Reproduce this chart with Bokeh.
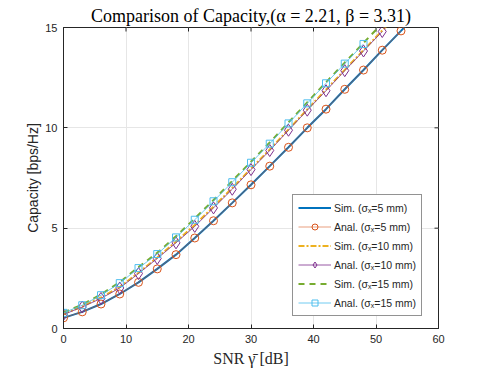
import math
from bokeh.plotting import figure
from bokeh.models import Range1d, Legend, LegendItem, FixedTicker
from bokeh.embed import file_html
from bokeh.resources import INLINE

# ---- data ----
snr_sim = [0, 3, 6, 9, 12, 15, 18, 21, 24, 27, 30, 33, 36, 39, 42, 45, 48, 51, 54, 57]
sim_5 = [0.53, 0.83, 1.22, 1.72, 2.30, 2.97, 3.68, 4.51, 5.37, 6.26, 7.16, 8.09, 9.03, 10.00, 10.93, 11.92, 12.88, 13.87, 14.83, 15.82]
sim_10 = [0.72, 1.10, 1.55, 2.07, 2.78, 3.54, 4.33, 5.16, 6.07, 7.00, 7.97, 8.92, 9.92, 10.92, 11.90, 12.89, 13.87, 14.85, 15.83, 16.8]
sim_15 = [0.80, 1.19, 1.70, 2.31, 3.06, 3.77, 4.60, 5.48, 6.40, 7.35, 8.31, 9.27, 10.27, 11.27, 12.27, 13.25, 14.23, 15.21, 16.2, 17.2]

snr_a5 = [0, 3, 6, 9, 12, 15, 18, 21, 24, 27, 30, 33, 36, 39, 42, 45, 48, 51, 54]
anal_5 = [0.53, 0.83, 1.22, 1.72, 2.30, 2.97, 3.68, 4.51, 5.37, 6.26, 7.16, 8.09, 9.03, 10.00, 10.93, 11.92, 12.88, 13.87, 14.83]
snr_a10 = [0, 3, 6, 9, 12, 15, 18, 21, 24, 27, 30, 33, 36, 39, 42, 45, 48, 51]
anal_10 = [0.70, 1.07, 1.50, 2.02, 2.74, 3.49, 4.27, 5.09, 6.01, 6.94, 7.92, 8.87, 9.88, 10.88, 11.85, 12.85, 13.83, 14.80]
snr_a15 = [0, 3, 6, 9, 12, 15, 18, 21, 24, 27, 30, 33, 36, 39, 42, 45, 48]
anal_15 = [0.78, 1.16, 1.66, 2.26, 3.01, 3.71, 4.54, 5.42, 6.34, 7.29, 8.26, 9.21, 10.22, 11.22, 12.22, 13.20, 14.18]

x_ticks = [0, 10, 20, 30, 40, 50, 60]
y_ticks = [0, 5, 10, 15]
x_min, x_max = 0, 60
y_min, y_max = 0, 15

title_text = "Comparison of Capacity,(\u03b1 = 2.21, \u03b2 = 3.31)"
x_label = "SNR \u03b3\u0304 [dB]"
y_label = "Capacity [bps/Hz]"
labels = ["Sim. (\u03c3\u2093=5 mm)", "Anal. (\u03c3\u2093=5 mm)",
          "Sim. (\u03c3\u2093=10 mm)", "Anal. (\u03c3\u2093=10 mm)",
          "Sim. (\u03c3\u2093=15 mm)", "Anal. (\u03c3\u2093=15 mm)"]

BLUE = "#0072BD"; ORANGE = "#D95319"; YELLOW = "#EDB120"
PURPLE = "#7E2F8E"; GREEN = "#77AC30"; CYAN = "#4DBEEE"
AX = "#262626"

p = figure(width=485, height=369, output_backend="svg", toolbar_location=None,
           x_range=Range1d(x_min, x_max), y_range=Range1d(y_min, y_max),
           min_border_left=63, min_border_right=47, min_border_top=27, min_border_bottom=41)

p.title.text = title_text
p.title.text_font = "Liberation Serif"
p.title.text_font_size = "18px"
p.title.text_font_style = "normal"
p.title.align = "center"
p.title.text_color = "black"
p.title.offset = 0
p.title.standoff = 4

p.outline_line_color = AX
p.outline_line_width = 1
p.background_fill_color = "white"
p.border_fill_color = "white"

for ax in (p.xaxis[0], p.yaxis[0]):
    ax.major_tick_in = 4
    ax.major_tick_out = 0
    ax.minor_tick_in = 0
    ax.minor_tick_out = 0
    ax.axis_line_color = AX
    ax.major_tick_line_color = AX
    ax.major_label_text_color = AX
    ax.major_label_text_font = "Liberation Sans"
    ax.major_label_text_font_size = "11px"

p.xaxis[0].ticker = FixedTicker(ticks=x_ticks)
p.yaxis[0].ticker = FixedTicker(ticks=y_ticks)
p.xaxis[0].axis_label = x_label
p.xaxis[0].axis_label_text_font = "Liberation Serif"
p.xaxis[0].axis_label_text_font_size = "16px"
p.xaxis[0].axis_label_text_font_style = "normal"
p.xaxis[0].axis_label_text_color = AX
p.xaxis[0].axis_label_standoff = 4
p.xaxis[0].major_label_standoff = 6

p.yaxis[0].axis_label = y_label
p.yaxis[0].axis_label_text_font = "Liberation Sans"
p.yaxis[0].axis_label_text_font_size = "14px"
p.yaxis[0].axis_label_text_font_style = "normal"
p.yaxis[0].axis_label_text_color = AX
p.yaxis[0].axis_label_standoff = 1
p.yaxis[0].major_label_standoff = 6

p.xgrid.ticker = FixedTicker(ticks=x_ticks)
p.ygrid.ticker = FixedTicker(ticks=y_ticks)
p.grid.grid_line_color = "#e6e6e6"
p.grid.grid_line_width = 1

# inward tick marks on the top and right edges of the box (half of each dash is clipped by the frame)
p.scatter(x_ticks, [y_max] * len(x_ticks), marker="dash", size=8, angle=math.pi / 2,
          line_color=AX, line_width=1)
p.scatter([x_max] * len(y_ticks), y_ticks, marker="dash", size=8,
          line_color=AX, line_width=1)

# ---- series ----
r1 = p.line(snr_sim, sim_5, line_color=BLUE, line_width=2)
r2l = p.line(snr_a5, anal_5, line_color=ORANGE, line_width=0.8, line_alpha=0.7)
r2m = p.scatter(snr_a5, anal_5, marker="circle", size=8, line_color=ORANGE,
                fill_color=None, line_width=1)
r3 = p.line(snr_sim, sim_10, line_color=YELLOW, line_width=2, line_dash="6 2 2 2")
r4l = p.line(snr_a10, anal_10, line_color=PURPLE, line_width=0.8)
r4m = p.scatter(snr_a10, anal_10, marker="diamond", size=12, line_color=PURPLE,
                fill_color=None, line_width=1)
r5 = p.line(snr_sim, sim_15, line_color=GREEN, line_width=2, line_dash="6 5")
r6l = p.line(snr_a15, anal_15, line_color=CYAN, line_width=0.8)
r6m = p.scatter(snr_a15, anal_15, marker="square", size=7, line_color=CYAN,
                fill_color=None, line_width=1)

legend = Legend(items=[
    LegendItem(label=labels[0], renderers=[r1]),
    LegendItem(label=labels[1], renderers=[r2l, r2m]),
    LegendItem(label=labels[2], renderers=[r3]),
    LegendItem(label=labels[3], renderers=[r4l, r4m]),
    LegendItem(label=labels[4], renderers=[r5]),
    LegendItem(label=labels[5], renderers=[r6l, r6m]),
], location=(229, 12))
legend.label_text_font = "Liberation Sans"
legend.label_text_font_size = "10.5px"
legend.label_text_color = AX
legend.glyph_width = 33
legend.glyph_height = 15
legend.label_height = 15
legend.label_standoff = 3
legend.spacing = 4
legend.padding = 5
legend.margin = 0
legend.border_line_color = AX
legend.border_line_width = 1
legend.background_fill_color = "white"
legend.background_fill_alpha = 1
p.add_layout(legend, "center")

open("out.html", "w").write(file_html(p, INLINE))
